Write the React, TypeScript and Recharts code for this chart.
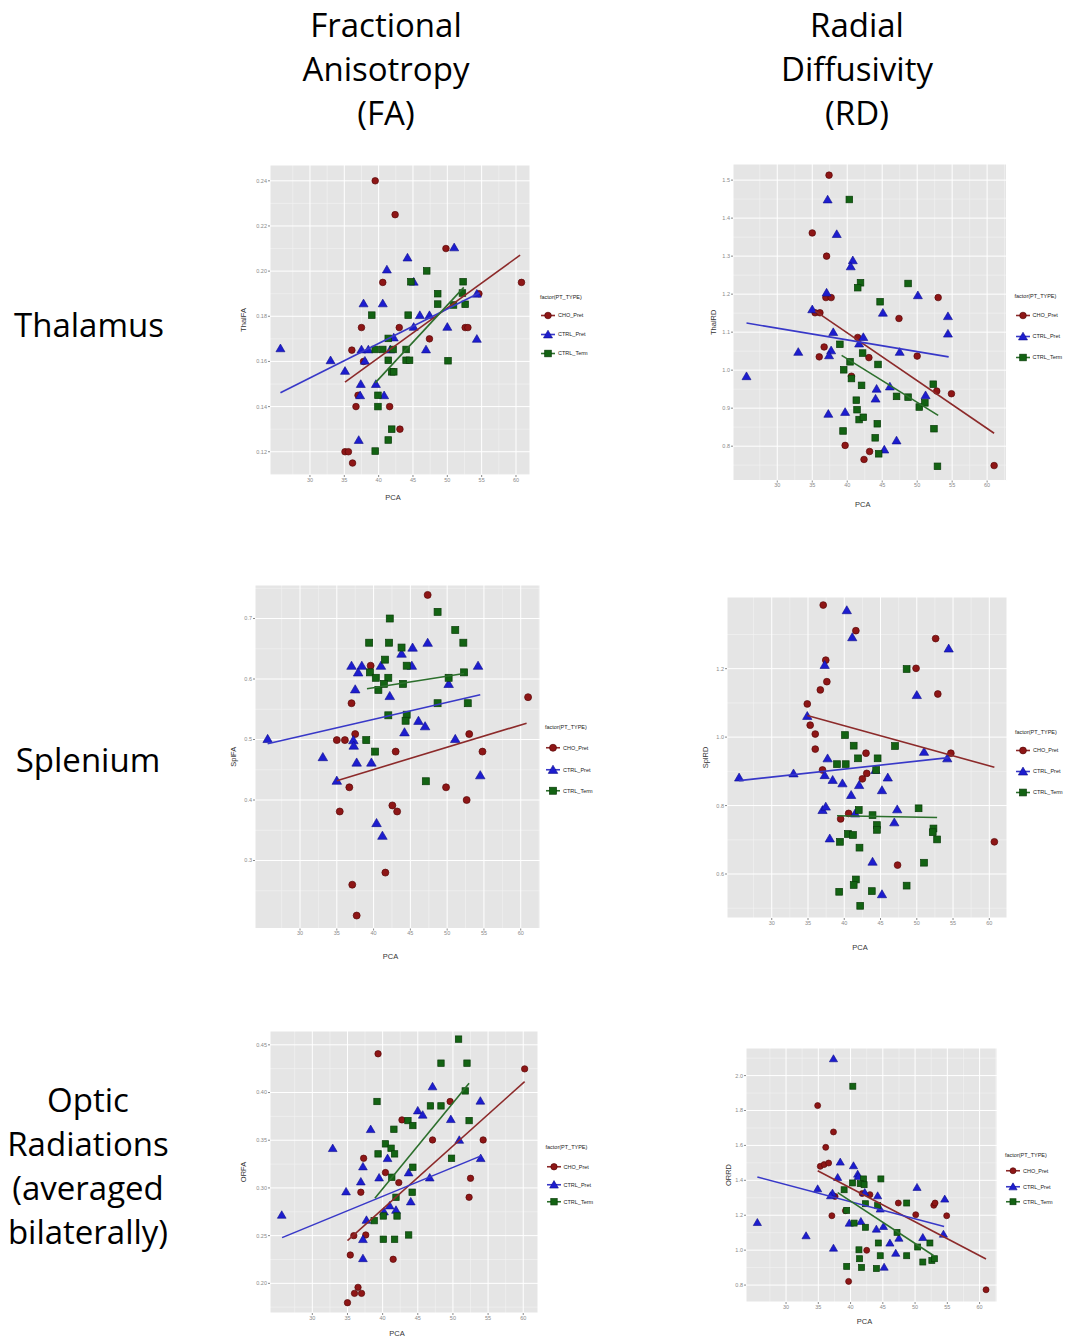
import React from 'react'
import { CartesianGrid, Legend, Scatter, ScatterChart, XAxis, YAxis } from 'recharts'

const groups = ['CHO_Pret', 'CTRL_Pret', 'CTRL_Term']
const pcaTicks = [30, 35, 40, 45, 50, 55, 60]
const pcaMinor = [22.5, 27.5, 32.5, 37.5, 42.5, 47.5, 52.5, 57.5, 62.5]

const pointFill = ['#8e1616', '#1d1dcf', '#136313']
const pointEdge = ['#5a0909', '#0d0d8c', '#093d09']
const lineColor = ['#8c2a2a', '#3838c8', '#2c6f2c']

type Pt = [number, number]

// Thalamus FA
const thalFaCho: Pt[] = [[39.5, 0.24], [42.4, 0.225], [49.8, 0.21], [40.6, 0.195], [60.8, 0.195], [54.6, 0.19], [37.5, 0.175], [43.0, 0.175], [52.6, 0.175], [53.0, 0.175], [47.4, 0.17], [36.1, 0.165], [37.8, 0.16], [37.0, 0.145], [36.7, 0.14], [41.6, 0.14], [43.1, 0.13], [35.1, 0.12], [35.6, 0.12], [36.2, 0.115]]
const thalFaPret: Pt[] = [[25.7, 0.1658], [33.0, 0.1605], [35.1, 0.1558], [37.8, 0.1857], [41.2, 0.2007], [40.6, 0.1857], [44.2, 0.206], [45.1, 0.1953], [51.0, 0.2105], [37.5, 0.1653], [38.5, 0.1653], [38.0, 0.1603], [37.4, 0.15], [37.3, 0.145], [37.1, 0.1252], [39.6, 0.15], [40.8, 0.145], [42.2, 0.1706], [41.7, 0.1653], [45.1, 0.1753], [46.0, 0.1805], [47.4, 0.1805], [46.9, 0.1653], [50.0, 0.1753], [54.3, 0.17], [54.3, 0.19]]
const thalFaTerm: Pt[] = [[47.0, 0.2001], [44.7, 0.1953], [52.3, 0.1953], [48.6, 0.19], [48.6, 0.1854], [52.2, 0.1903], [52.6, 0.1853], [39.0, 0.1805], [44.3, 0.1805], [39.5, 0.1653], [40.6, 0.1653], [41.4, 0.1702], [42.1, 0.1653], [44.0, 0.1653], [44.0, 0.1605], [44.5, 0.1605], [41.4, 0.1605], [41.9, 0.1554], [42.2, 0.1554], [50.1, 0.1603], [39.9, 0.145], [39.9, 0.14], [41.9, 0.13], [41.4, 0.1252], [39.5, 0.1203], [50.9, 0.185]]
const thalFaFits: Pt[][] = [[[35.1, 0.1508], [60.6, 0.2071]], [[25.7, 0.1461], [54.7, 0.1904]], [[39.5, 0.1505], [52.4, 0.1928]]]

// Thalamus RD
const thalRdCho: Pt[] = [[37.4, 1.513], [35.0, 1.361], [37.05, 1.3], [36.95, 1.191], [37.7, 1.191], [53.0, 1.191], [35.4, 1.151], [36.1, 1.151], [47.4, 1.136], [41.5, 1.086], [36.7, 1.061], [36.0, 1.035], [43.1, 1.033], [50.0, 1.037], [40.6, 0.984], [52.8, 0.945], [54.9, 0.938], [39.7, 0.802], [43.2, 0.786], [42.4, 0.765], [61.0, 0.749]]
const thalRdPret: Pt[] = [[25.6, 0.984], [33.0, 1.048], [37.2, 1.449], [38.5, 1.358], [40.8, 1.289], [40.5, 1.273], [37.05, 1.204], [35.0, 1.16], [50.1, 1.197], [45.1, 1.151], [54.4, 1.142], [54.4, 1.096], [38.0, 1.1], [37.7, 1.052], [37.4, 1.039], [42.3, 1.087], [41.7, 1.07], [47.5, 1.048], [46.1, 0.957], [44.2, 0.951], [44.05, 0.925], [51.2, 0.934], [37.3, 0.885], [39.7, 0.89], [47.05, 0.815], [45.3, 0.791]]
const thalRdTerm: Pt[] = [[40.3, 1.449], [41.9, 1.23], [41.5, 1.217], [48.7, 1.228], [44.7, 1.18], [38.95, 1.068], [40.4, 1.022], [39.5, 1.001], [40.6, 0.978], [42.2, 1.045], [44.4, 1.015], [42.05, 0.96], [47.05, 0.931], [48.7, 0.929], [50.3, 0.903], [52.3, 0.963], [51.1, 0.914], [41.3, 0.921], [41.4, 0.896], [41.7, 0.87], [42.3, 0.876], [44.3, 0.859], [39.4, 0.84], [44.0, 0.822], [44.5, 0.78], [52.4, 0.846], [52.9, 0.747]]
const thalRdFits: Pt[][] = [[[35.4, 1.156], [61.0, 0.834]], [[25.6, 1.124], [54.5, 1.035]], [[39.2, 1.039], [53.0, 0.881]]]

// Splenium FA
const splFaCho: Pt[] = [[47.35, 0.739], [39.6, 0.622], [37.0, 0.56], [61.0, 0.57], [37.5, 0.509], [35.0, 0.499], [36.1, 0.499], [53.0, 0.509], [54.8, 0.48], [43.0, 0.48], [36.7, 0.421], [49.85, 0.421], [52.65, 0.4], [35.4, 0.381], [42.55, 0.391], [43.2, 0.381], [41.6, 0.28], [37.1, 0.26], [37.7, 0.209]]
const splFaPret: Pt[] = [[25.6, 0.501], [33.1, 0.471], [35.0, 0.432], [37.0, 0.622], [38.4, 0.622], [37.9, 0.611], [37.5, 0.583], [37.25, 0.499], [37.3, 0.49], [37.7, 0.462], [39.7, 0.462], [41.0, 0.622], [42.2, 0.572], [43.8, 0.642], [45.3, 0.652], [45.2, 0.622], [47.35, 0.66], [50.2, 0.592], [54.2, 0.622], [46.1, 0.531], [47.0, 0.522], [44.2, 0.512], [51.1, 0.501], [54.5, 0.441], [40.4, 0.362], [41.2, 0.341]]
const splFaTerm: Pt[] = [[42.2, 0.7], [48.7, 0.711], [51.1, 0.681], [52.2, 0.66], [39.4, 0.66], [42.1, 0.66], [43.8, 0.652], [44.5, 0.622], [41.55, 0.632], [39.5, 0.611], [40.3, 0.602], [42.0, 0.602], [40.65, 0.582], [41.4, 0.592], [44.0, 0.592], [50.2, 0.602], [52.3, 0.611], [48.7, 0.56], [52.8, 0.56], [42.0, 0.54], [44.5, 0.541], [44.35, 0.531], [39.0, 0.499], [40.2, 0.48], [47.1, 0.431]]
const splFaFits: Pt[][] = [[[35.0, 0.432], [60.8, 0.527]], [[25.6, 0.493], [54.5, 0.574]], [[39.1, 0.584], [52.3, 0.609]]]

// Splenium RD
const splRdCho: Pt[] = [[37.1, 1.386], [41.6, 1.311], [52.6, 1.288], [37.45, 1.225], [49.9, 1.201], [37.6, 1.162], [36.7, 1.138], [52.9, 1.126], [34.9, 1.097], [35.3, 1.035], [36.0, 1.009], [36.0, 0.965], [43.0, 0.953], [54.7, 0.953], [43.1, 0.894], [42.5, 0.878], [37.0, 0.904], [40.6, 0.777], [39.5, 0.761], [47.35, 0.626], [60.7, 0.694]]
const splRdPret: Pt[] = [[25.5, 0.882], [33.0, 0.894], [34.9, 1.062], [40.35, 1.371], [41.1, 1.292], [37.3, 1.211], [54.4, 1.259], [50.0, 1.123], [51.0, 0.957], [54.2, 0.938], [37.7, 0.938], [37.3, 0.889], [38.4, 0.875], [39.75, 0.865], [42.05, 0.86], [40.95, 0.831], [44.3, 0.904], [46.0, 0.882], [45.2, 0.845], [37.0, 0.787], [37.45, 0.797], [41.5, 0.777], [47.3, 0.789], [46.9, 0.751], [38.0, 0.704], [43.9, 0.636], [45.2, 0.541]]
const splRdTerm: Pt[] = [[48.6, 1.199], [40.1, 1.006], [41.3, 0.975], [47.0, 0.974], [41.9, 0.938], [44.6, 0.938], [44.4, 0.904], [39.0, 0.921], [40.2, 0.921], [42.0, 0.787], [43.9, 0.772], [50.25, 0.792], [44.5, 0.743], [44.5, 0.729], [52.3, 0.733], [52.2, 0.722], [52.8, 0.701], [40.5, 0.717], [41.2, 0.714], [39.4, 0.694], [42.1, 0.677], [51.0, 0.633], [41.6, 0.584], [41.3, 0.568], [48.6, 0.566], [39.3, 0.548], [43.8, 0.55], [42.2, 0.507]]
const splRdFits: Pt[][] = [[[34.9, 1.063], [60.7, 0.912]], [[25.5, 0.873], [54.4, 0.94]], [[39.0, 0.77], [52.8, 0.765]]]

// Optic radiations FA
const orFaCho: Pt[] = [[39.35, 0.4406], [60.2, 0.4248], [49.6, 0.3906], [42.75, 0.3713], [47.1, 0.3503], [54.3, 0.3503], [37.3, 0.3311], [40.4, 0.3161], [42.3, 0.3056], [52.5, 0.3101], [52.3, 0.2902], [36.9, 0.2955], [35.9, 0.25], [37.6, 0.2507], [35.4, 0.2297], [41.5, 0.2252], [36.5, 0.1958], [36.0, 0.1895], [37.0, 0.1895], [35.0, 0.1797]]
const orFaPret: Pt[] = [[25.65, 0.2717], [32.9, 0.3416], [34.8, 0.2962], [38.3, 0.3615], [37.2, 0.3224], [36.9, 0.3066], [39.5, 0.3108], [40.7, 0.3311], [37.7, 0.2664], [37.2, 0.2462], [37.2, 0.2262], [40.2, 0.2752], [41.0, 0.2815], [41.9, 0.2769], [43.7, 0.3161], [44.0, 0.2857], [45.0, 0.3811], [45.7, 0.3766], [47.1, 0.4063], [46.7, 0.3108], [49.7, 0.372], [50.9, 0.3503], [53.9, 0.3913], [53.95, 0.3311]]
const orFaTerm: Pt[] = [[50.8, 0.456], [48.3, 0.4308], [52.0, 0.4308], [51.75, 0.4017], [39.2, 0.3906], [46.8, 0.386], [48.3, 0.386], [43.6, 0.3706], [44.3, 0.3654], [52.3, 0.3706], [41.6, 0.3615], [40.4, 0.3462], [41.2, 0.3416], [41.7, 0.3357], [39.35, 0.3357], [49.8, 0.3311], [44.3, 0.3217], [41.3, 0.3112], [44.2, 0.2955], [41.9, 0.2902], [40.1, 0.2706], [42.05, 0.2706], [38.8, 0.2657], [40.1, 0.2462], [41.7, 0.2462], [43.7, 0.2507]]
const orFaFits: Pt[][] = [[[35.0, 0.2448], [60.2, 0.4115]], [[25.7, 0.2479], [54.0, 0.3336]], [[38.9, 0.2892], [52.3, 0.4098]]]

// Optic radiations RD
const orRdCho: Pt[] = [[34.9, 1.828], [37.35, 1.677], [36.15, 1.589], [35.3, 1.48], [35.9, 1.49], [36.6, 1.499], [37.6, 1.308], [37.1, 1.197], [41.8, 1.324], [43.0, 1.318], [47.4, 1.27], [52.9, 1.257], [53.1, 1.27], [50.1, 1.203], [54.9, 1.197], [39.2, 1.226], [42.5, 0.999], [39.7, 0.821], [61.0, 0.773]]
const orRdPret: Pt[] = [[37.35, 2.097], [25.55, 1.159], [33.1, 1.083], [34.9, 1.352], [38.4, 1.505], [38.0, 1.417], [37.2, 1.327], [36.9, 1.312], [40.45, 1.484], [41.1, 1.436], [41.2, 1.423], [42.2, 1.331], [44.2, 1.312], [44.6, 1.236], [39.8, 1.155], [41.6, 1.165], [44.0, 1.121], [45.1, 1.136], [46.1, 1.041], [47.5, 1.069], [47.0, 0.983], [45.2, 0.903], [50.3, 1.36], [51.2, 1.073], [54.6, 1.293], [54.4, 1.092], [37.35, 1.012]]
const orRdTerm: Pt[] = [[40.35, 1.939], [44.7, 1.408], [42.0, 1.408], [40.3, 1.385], [41.5, 1.381], [42.1, 1.375], [39.0, 1.346], [42.3, 1.266], [48.7, 1.27], [39.4, 1.228], [40.55, 1.155], [42.3, 1.131], [44.2, 1.255], [47.2, 1.102], [44.3, 1.041], [41.3, 1.002], [41.4, 0.951], [41.7, 0.901], [39.4, 0.907], [44.0, 0.895], [44.6, 0.968], [48.7, 0.968], [50.4, 1.018], [52.3, 1.041], [51.2, 0.932], [52.6, 0.941], [53.0, 0.951]]
const orRdFits: Pt[][] = [[[34.9, 1.455], [61.0, 0.949]], [[25.55, 1.419], [54.5, 1.136]], [[38.0, 1.33], [52.9, 0.968]]]

const FONT = '"Liberation Sans", Arial, sans-serif'
const toXY = (pts: Pt[]) => pts.map(([x, y]) => ({ x, y }))

const drawMark = (kind: number, r: number, cx: number, cy: number) => {
  const fill = pointFill[kind]
  const stroke = pointEdge[kind]
  if (kind === 0) return <circle cx={cx} cy={cy} r={r} fill={fill} stroke={stroke} strokeWidth={0.7} />
  if (kind === 1) {
    const s = r * 1.3
    return (
      <polygon
        points={`${cx},${cy - s} ${cx + s * 1.05},${cy + s * 0.8} ${cx - s * 1.05},${cy + s * 0.8}`}
        fill={fill}
        stroke={stroke}
        strokeWidth={0.6}
      />
    )
  }
  return <rect x={cx - r} y={cy - r} width={r * 2} height={r * 2} fill={fill} stroke={stroke} strokeWidth={0.7} />
}

const markShape = (kind: number, r: number) => (props: any) => {
  const { cx, cy } = props
  if (cx == null || cy == null) return <g />
  return drawMark(kind, r, cx, cy)
}

const noShape = () => <g />

type PanelProps = {
  plotLeft: number
  plotTop: number
  plotW: number
  plotH: number
  yAxisW: number
  yTitleOffset: number
  xTitleDist: number
  xDomain: [number, number]
  yDomain: [number, number]
  yTicks: number[]
  yMinor: number[]
  digits: number
  yLabel: string
  series: Pt[][]
  fits: Pt[][]
  r: number
  legendTitleY: number
  legendPad: number
  legendFirst: number
  legendRow: number
}

const LEGEND_W = 80
const TOP_M = 4

const Panel = (p: PanelProps) => {
  const xAxisH = p.xTitleDist + 8
  const width = p.yAxisW + p.plotW + LEGEND_W
  const height = TOP_M + p.plotH + xAxisH
  const chartTop = p.plotTop - TOP_M
  const minorX = pcaMinor.filter((v) => v > p.xDomain[0] && v < p.xDomain[1])
  const minorY = p.yMinor.filter((v) => v > p.yDomain[0] && v < p.yDomain[1])
  const scaleOf = (axis: any) => (v: number) => {
    const s = axis && axis.scale
    if (typeof s === 'function') return s(v)
    if (s && typeof s.map === 'function') return s.map(v)
    return NaN
  }

  const legendContent = () => (
    <div style={{ fontFamily: FONT, fontSize: 5.5, color: '#222', paddingLeft: p.legendPad }}>
      <div style={{ height: 10, lineHeight: '10px', whiteSpace: 'nowrap' }}>factor(PT_TYPE)</div>
      {groups.map((g, i) => (
        <div
          key={g}
          style={{
            display: 'flex',
            alignItems: 'center',
            height: p.legendRow,
            marginTop: i === 0 ? p.legendFirst - 5 - p.legendRow / 2 : 0,
          }}
        >
          <svg width={16} height={p.legendRow} style={{ display: 'block' }}>
            <line x1={1} x2={15} y1={p.legendRow / 2} y2={p.legendRow / 2} stroke={lineColor[i]} strokeWidth={1.6} />
            {drawMark(i, p.r, 8, p.legendRow / 2)}
          </svg>
          <span style={{ marginLeft: 2, whiteSpace: 'nowrap' }}>{g}</span>
        </div>
      ))}
    </div>
  )

  return (
    <div style={{ position: 'absolute', left: p.plotLeft - p.yAxisW, top: chartTop, width, height }}>
      <ScatterChart width={width} height={height} margin={{ top: TOP_M, right: 0, bottom: 0, left: 0 }}>
        <CartesianGrid
          fill="#e5e5e5"
          stroke="#f3f3f3"
          strokeWidth={0.6}
          verticalCoordinatesGenerator={({ xAxis }: any) => minorX.map(scaleOf(xAxis)).filter((v) => !isNaN(v))}
          horizontalCoordinatesGenerator={({ yAxis }: any) => minorY.map(scaleOf(yAxis)).filter((v) => !isNaN(v))}
        />
        <CartesianGrid stroke="#ffffff" strokeWidth={1} />
        <XAxis
          type="number"
          dataKey="x"
          domain={p.xDomain}
          ticks={pcaTicks}
          allowDataOverflow
          axisLine={false}
          tickSize={2}
          tickMargin={1}
          tickLine={{ stroke: '#8a8a8a' }}
          tick={{ fontSize: 5.5, fill: '#8a8a8a', fontFamily: FONT }}
          height={xAxisH}
          label={{ value: 'PCA', position: 'insideBottom', offset: xAxisH - p.xTitleDist - 2.7, dx: -7, fontSize: 7.5, fill: '#333', fontFamily: FONT }}
        />
        <YAxis
          type="number"
          dataKey="y"
          domain={p.yDomain}
          ticks={p.yTicks}
          allowDataOverflow
          axisLine={false}
          tickSize={2}
          tickMargin={1}
          tickLine={{ stroke: '#8a8a8a' }}
          tick={{ fontSize: 5.5, fill: '#8a8a8a', fontFamily: FONT }}
          tickFormatter={(v: number) => v.toFixed(p.digits)}
          width={p.yAxisW}
          label={{
            value: p.yLabel,
            angle: -90,
            position: 'insideLeft',
            offset: p.yTitleOffset,
            fontSize: 7.5,
            fill: '#333',
            fontFamily: FONT,
            style: { textAnchor: 'middle' },
          }}
        />
        <Legend
          layout="vertical"
          align="right"
          verticalAlign="middle"
          content={legendContent}
          wrapperStyle={{ width: LEGEND_W, top: p.legendTitleY - 5 - chartTop, boxSizing: 'border-box' }}
        />
        {p.series.map((s, i) => (
          <Scatter
            key={groups[i]}
            name={groups[i]}
            data={toXY(s)}
            shape={markShape(i, p.r)}
            isAnimationActive={false}
          />
        ))}
        {p.fits.map((f, i) => (
          <Scatter
            key={'fit' + i}
            data={toXY(f)}
            line={{ stroke: lineColor[i], strokeWidth: 1.6 }}
            shape={noShape}
            legendType="none"
            isAnimationActive={false}
          />
        ))}
      </ScatterChart>
    </div>
  )
}

const bigText: React.CSSProperties = {
  position: 'absolute',
  fontFamily: '"Open Sans", sans-serif',
  fontSize: 33,
  lineHeight: '44px',
  textAlign: 'center',
  color: '#000',
}

const App = () => {
  return (
    <div style={{ position: 'absolute', left: 0, top: 0, width: 1080, height: 1343, background: '#fff', overflow: 'hidden' }}>
      <div style={{ ...bigText, left: 236, top: 3, width: 300 }}>
        Fractional<br />Anisotropy<br />(FA)
      </div>
      <div style={{ ...bigText, left: 707, top: 3, width: 300 }}>
        Radial<br />Diffusivity<br />(RD)
      </div>
      <div style={{ ...bigText, left: 0, top: 303, width: 178 }}>Thalamus</div>
      <div style={{ ...bigText, left: 0, top: 738, width: 176 }}>Splenium</div>
      <div style={{ ...bigText, left: 0, top: 1078, width: 176 }}>
        Optic<br />Radiations<br />(averaged<br />bilaterally)
      </div>

      <Panel
        plotLeft={270} plotTop={165} plotW={260} plotH={310}
        yAxisW={30} yTitleOffset={3} xTitleDist={22}
        xDomain={[24.18, 62.04]} yDomain={[0.1097, 0.247]}
        yTicks={[0.12, 0.14, 0.16, 0.18, 0.2, 0.22, 0.24]} yMinor={[0.11, 0.13, 0.15, 0.17, 0.19, 0.21, 0.23]}
        digits={2} yLabel="ThalFA"
        series={[thalFaCho, thalFaPret, thalFaTerm]} fits={thalFaFits} r={3.3}
        legendTitleY={297} legendPad={10} legendFirst={18} legendRow={19}
      />
      <Panel
        plotLeft={733} plotTop={163.5} plotW={273.5} plotH={316.5}
        yAxisW={24} yTitleOffset={4} xTitleDist={24}
        xDomain={[23.67, 62.77]} yDomain={[0.7097, 1.5424]}
        yTicks={[0.8, 0.9, 1.0, 1.1, 1.2, 1.3, 1.4, 1.5]} yMinor={[0.75, 0.85, 0.95, 1.05, 1.15, 1.25, 1.35, 1.45]}
        digits={1} yLabel="ThalRD"
        series={[thalRdCho, thalRdPret, thalRdTerm]} fits={thalRdFits} r={3.3}
        legendTitleY={296} legendPad={8} legendFirst={19} legendRow={21}
      />
      <Panel
        plotLeft={255} plotTop={584.5} plotW={285} plotH={343.5}
        yAxisW={26} yTitleOffset={4} xTitleDist={28}
        xDomain={[23.88, 62.62]} yDomain={[0.1876, 0.7554]}
        yTicks={[0.3, 0.4, 0.5, 0.6, 0.7]} yMinor={[0.25, 0.35, 0.45, 0.55, 0.65, 0.75]}
        digits={1} yLabel="SplFA"
        series={[splFaCho, splFaPret, splFaTerm]} fits={splFaFits} r={3.5}
        legendTitleY={727} legendPad={5} legendFirst={21} legendRow={21.5}
      />
      <Panel
        plotLeft={727} plotTop={597} plotW={280} plotH={321}
        yAxisW={26} yTitleOffset={4} xTitleDist={29}
        xDomain={[23.83, 62.44]} yDomain={[0.4714, 1.4095]}
        yTicks={[0.6, 0.8, 1.0, 1.2]} yMinor={[0.5, 0.7, 0.9, 1.1, 1.3]}
        digits={1} yLabel="SplRD"
        series={[splRdCho, splRdPret, splRdTerm]} fits={splRdFits} r={3.4}
        legendTitleY={732} legendPad={8} legendFirst={18} legendRow={21}
      />
      <Panel
        plotLeft={269.5} plotTop={1031} plotW={268} plotH={282}
        yAxisW={30} yTitleOffset={3.5} xTitleDist={20}
        xDomain={[23.98, 62.1]} yDomain={[0.1689, 0.4645]}
        yTicks={[0.2, 0.25, 0.3, 0.35, 0.4, 0.45]} yMinor={[0.175, 0.225, 0.275, 0.325, 0.375, 0.425]}
        digits={2} yLabel="ORFA"
        series={[orFaCho, orFaPret, orFaTerm]} fits={orFaFits} r={3.2}
        legendTitleY={1147} legendPad={8} legendFirst={20} legendRow={17.5}
      />
      <Panel
        plotLeft={746} plotTop={1048} plotW={251} plotH={254}
        yAxisW={22} yTitleOffset={4} xTitleDist={19}
        xDomain={[23.79, 62.7]} yDomain={[0.703, 2.158]}
        yTicks={[0.8, 1.0, 1.2, 1.4, 1.6, 1.8, 2.0]} yMinor={[0.7, 0.9, 1.1, 1.3, 1.5, 1.7, 1.9, 2.1]}
        digits={1} yLabel="ORRD"
        series={[orRdCho, orRdPret, orRdTerm]} fits={orRdFits} r={3.0}
        legendTitleY={1155} legendPad={8} legendFirst={16} legendRow={15.5}
      />
    </div>
  )
}

export default App
